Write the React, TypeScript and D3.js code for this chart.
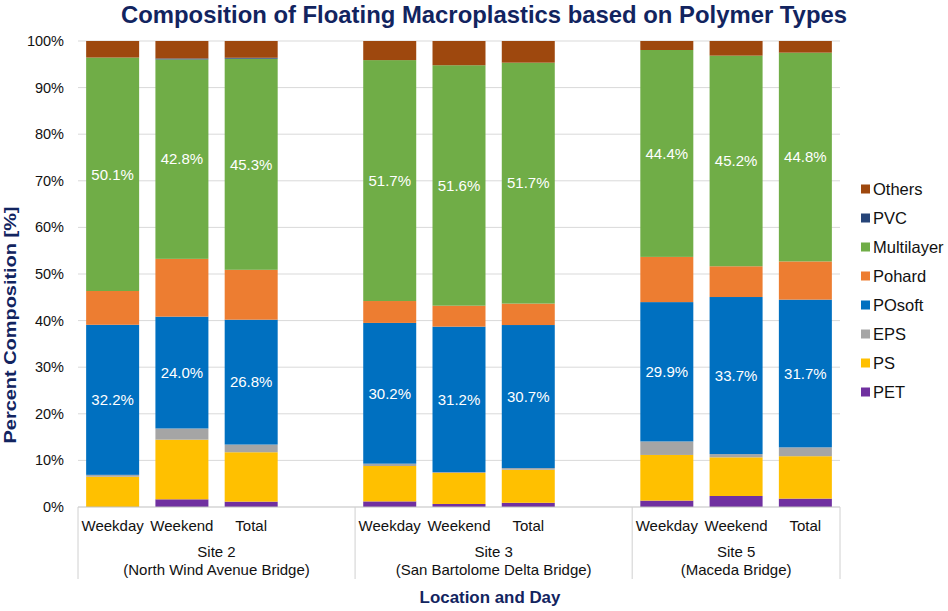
import React from "react";
import * as d3 from "d3";

// slots along the x axis; the "-gap" slots are the blank spacer columns
const slots = ["S2-Weekday", "S2-Weekend", "S2-Total", "S2-gap", "S3-Weekday", "S3-Weekend", "S3-Total", "S3-gap", "S5-Weekday", "S5-Weekend", "S5-Total"];
const barKeys = ["S2-Weekday", "S2-Weekend", "S2-Total", "S3-Weekday", "S3-Weekend", "S3-Total", "S5-Weekday", "S5-Weekend", "S5-Total"];
const dayLabels = ["Weekday", "Weekend", "Total", "Weekday", "Weekend", "Total", "Weekday", "Weekend", "Total"];

const sites = [
    { name: "Site 2", place: "(North Wind Avenue Bridge)", first: "S2-Weekday", last: "S2-gap" },
    { name: "Site 3", place: "(San Bartolome Delta Bridge)", first: "S3-Weekday", last: "S3-gap" },
    { name: "Site 5", place: "(Maceda Bridge)", first: "S5-Weekday", last: "S5-Total" },
];

// stacking order bottom -> top
const polymers = ["PET", "PS", "EPS", "POsoft", "Pohard", "Multilayer", "PVC", "Others"];
const colors = ["#7030A0", "#FFC000", "#A5A5A5", "#0070C0", "#ED7D31", "#70AD47", "#264478", "#9E480E"];

const PET = [0.0, 1.65, 1.15, 1.2, 0.65, 0.9, 1.37, 2.36, 1.8];
const PS = [6.5, 12.8, 10.6, 7.6, 6.65, 7.1, 9.8, 8.3, 9.1];
const EPS = [0.4, 2.4, 1.65, 0.5, 0.2, 0.35, 2.9, 0.7, 1.9];
const POsoft = [32.2, 24.0, 26.8, 30.2, 31.2, 30.7, 29.9, 33.7, 31.7];
const Pohard = [7.25, 12.4, 10.7, 4.7, 4.5, 4.6, 9.7, 6.6, 8.2];
const Multilayer = [50.1, 42.8, 45.3, 51.7, 51.6, 51.7, 44.4, 45.2, 44.8];
const PVC = [0.0, 0.2, 0.2, 0.0, 0.0, 0.0, 0.0, 0.0, 0.0];
const Others = [3.55, 3.75, 3.6, 4.1, 5.2, 4.65, 1.93, 3.14, 2.5];

const labelled = ["POsoft", "Multilayer"];
const yTicks = [0, 10, 20, 30, 40, 50, 60, 70, 80, 90, 100];

const W = 948;
const H = 611;
const margin = { top: 41, right: 108, bottom: 104, left: 78 };
const font = "'Liberation Sans', Arial, sans-serif";
const navy = "#12245f";

export default function App() {
    const series: Record<string, number[]> = { PET, PS, EPS, POsoft, Pohard, Multilayer, PVC, Others };
    const rows = barKeys.map((k, i) => {
        const r: any = { key: k };
        polymers.forEach((p) => (r[p] = series[p][i]));
        return r;
    });

    const x = d3
        .scaleBand<string>()
        .domain(slots)
        .range([margin.left, W - margin.right])
        .paddingInner(0.235)
        .paddingOuter(0.1175);
    const y = d3.scaleLinear().domain([0, 100]).range([H - margin.bottom, margin.top]);
    const color = d3.scaleOrdinal<string, string>().domain(polymers).range(colors);

    const stacked = d3.stack<any>().keys(polymers)(rows);
    const x0 = margin.left;
    const x1 = W - margin.right;
    const y0 = y(0);
    const step = x.step();
    const edge = (k: string) => (x(k) as number) - (step - x.bandwidth()) / 2;

    return (
        <svg width={W} height={H} style={{ position: "absolute", left: 0, top: 0 }} fontFamily={font}>
            <rect width={W} height={H} fill="#fff" />
            <text x={484} y={23} textAnchor="middle" fontSize={24} fontWeight="bold" fill={navy} textLength={726} lengthAdjust="spacingAndGlyphs">
                Composition of Floating Macroplastics based on Polymer Types
            </text>

            {yTicks.map((t) => (
                <g key={t}>
                    {t > 0 && <line x1={x0} x2={x1} y1={y(t)} y2={y(t)} stroke="#d9d9d9" />}
                    <text x={64} y={y(t)} dy="0.35em" textAnchor="end" fontSize={14.5} fill="#111">
                        {t}%
                    </text>
                </g>
            ))}

            {stacked.map((s) => (
                <g key={s.key} fill={color(s.key)}>
                    {s.map((d, i) => (
                        <rect
                            key={i}
                            x={x(barKeys[i])}
                            width={x.bandwidth()}
                            y={y(d[1])}
                            height={Math.max(0, y(d[0]) - y(d[1]))}
                        />
                    ))}
                </g>
            ))}

            {stacked
                .filter((s) => labelled.includes(s.key))
                .map((s) => (
                    <g key={s.key + "-lab"}>
                        {s.map((d, i) => (
                            <text
                                key={i}
                                x={(x(barKeys[i]) as number) + x.bandwidth() / 2}
                                y={y((d[0] + d[1]) / 2)}
                                dy="0.35em"
                                textAnchor="middle"
                                fontSize={15}
                                fill="#fff"
                            >
                                {(d[1] - d[0]).toFixed(1)}%
                            </text>
                        ))}
                    </g>
                ))}

            <line x1={x0} x2={x1} y1={y0} y2={y0} stroke="#bfbfbf" />
            {[...sites.map((s) => edge(s.first)), x1].map((v, i) => (
                <line key={i} x1={v} x2={v} y1={y0} y2={y0 + 72} stroke="#d0d0d0" />
            ))}

            {barKeys.map((k, i) => (
                <text key={k} x={(x(k) as number) + x.bandwidth() / 2} y={531} textAnchor="middle" fontSize={15} fill="#111">
                    {dayLabels[i]}
                </text>
            ))}

            {sites.map((s) => {
                const a = edge(s.first);
                const b = edge(s.last) + step;
                const cx = (a + b) / 2;
                return (
                    <g key={s.name}>
                        <text x={cx} y={557} textAnchor="middle" fontSize={15} fill="#111">
                            {s.name}
                        </text>
                        <text x={cx} y={575} textAnchor="middle" fontSize={15} fill="#111">
                            {s.place}
                        </text>
                    </g>
                );
            })}

            <text x={490} y={603} textAnchor="middle" fontSize={16.9} fontWeight="bold" fill={navy}>
                Location and Day
            </text>
            <text
                transform="translate(16,325) rotate(-90)"
                textAnchor="middle"
                fontSize={17}
                fontWeight="bold"
                fill={navy}
                textLength={237}
                lengthAdjust="spacingAndGlyphs"
            >
                Percent Composition [%]
            </text>

            {[...polymers].reverse().map((p, i) => (
                <g key={p} transform={`translate(861,${189 + i * 29})`}>
                    <rect x={0} y={-4.5} width={9} height={9} fill={color(p)} />
                    <text x={12} y={0} dy="0.35em" fontSize={16.5} fill="#111">
                        {p}
                    </text>
                </g>
            ))}
        </svg>
    );
}
